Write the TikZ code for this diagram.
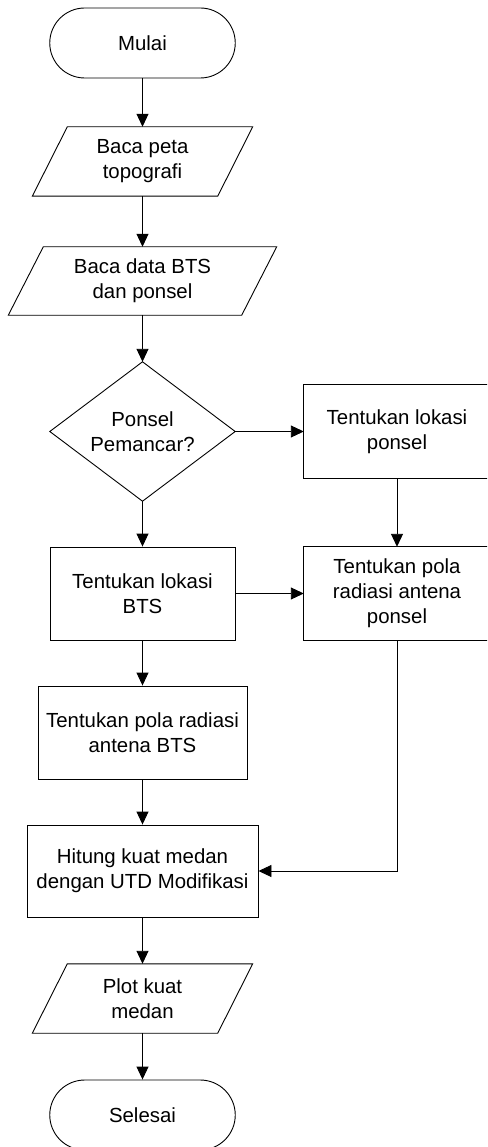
\documentclass[tikz,border=0pt]{standalone}
\usepackage{fontspec}
\setmainfont{Liberation Sans}
\usetikzlibrary{arrows.meta,calc}
\begin{document}
\begin{tikzpicture}[x=1pt,y=-1pt,
  every node/.style={font=\fontsize{20.4}{25}\selectfont, align=center, inner sep=0pt},
  ln/.style={line width=0.9pt, draw=black},
  arr/.style={ln, -{Triangle[length=13pt,width=12pt]}},
  boxn/.style={ln, rectangle},
  term/.style={ln, rectangle, rounded corners=35pt},
  holder/.style={rectangle, draw=none}
]
\useasboundingbox (0,0) rectangle (487,1147);
\clip (0,0) rectangle (487,1147);

\node[term, minimum width=185.5pt, minimum height=70pt] (mulai) at (142.5,43) {Mulai};
\node[holder, minimum width=220pt, minimum height=69pt] (p1) at (142.5,161.5) {Baca peta\\topografi};
\node[holder, minimum width=268pt, minimum height=68pt] (p2) at (142.5,281) {Baca data BTS\\dan ponsel};
\node[holder, minimum width=185pt, minimum height=139pt] (dec) at (142.5,431.5) {Ponsel\\Pemancar?};
\node[holder, minimum width=186pt, minimum height=93pt] (rb1) at (397,431.5) {Tentukan lokasi\\ponsel};
\node[boxn, minimum width=185pt, minimum height=93pt] (bts) at (142.5,593.5) {Tentukan lokasi\\BTS};
\node[holder, minimum width=186pt, minimum height=93pt] (rb2) at (397,593.5) {Tentukan pola\\radiasi antena\\ponsel};
\node[boxn, minimum width=209pt, minimum height=93pt] (pbts) at (142.5,732.5) {Tentukan pola radiasi\\antena BTS};
\node[boxn, minimum width=231pt, minimum height=92pt] (hit) at (142.5,871) {Hitung kuat medan\\dengan UTD Modifikasi};
\node[holder, minimum width=220pt, minimum height=69pt] (plot) at (142.5,998.5) {Plot kuat\\medan};
\node[term, minimum width=185.5pt, minimum height=70pt] (sel) at (142.5,1115) {Selesai};

% right boxes run past the right edge of the picture
\foreach \n in {rb1,rb2}{
  \draw[ln] (\n.north west) rectangle ($(\n.south east)+(12,0)$);
}
% parallelograms
\foreach \n in {p1,p2,plot}{
  \draw[ln] ($(\n.north west)+(35,0)$) -- (\n.north east) -- ($(\n.south east)+(-35,0)$) -- (\n.south west) -- cycle;
}
% diamond
\draw[ln] (dec.north) -- (dec.east) -- (dec.south) -- (dec.west) -- cycle;

% connectors
\draw[arr] (mulai.south) -- (p1.north);
\draw[arr] (p1.south) -- (p2.north);
\draw[arr] (p2.south) -- (dec.north);
\draw[arr] (dec.east) -- (rb1.west);
\draw[arr] (dec.south) -- (bts.north);
\draw[arr] (rb1.south) -- (rb2.north);
\draw[arr] (bts.east) -- (rb2.west);
\draw[arr] (bts.south) -- (pbts.north);
\draw[arr] (pbts.south) -- (hit.north);
\draw[arr] (rb2.south) |- (hit.east);
\draw[arr] (hit.south) -- (plot.north);
\draw[arr] (plot.south) -- (sel.north);
\end{tikzpicture}
\end{document}
